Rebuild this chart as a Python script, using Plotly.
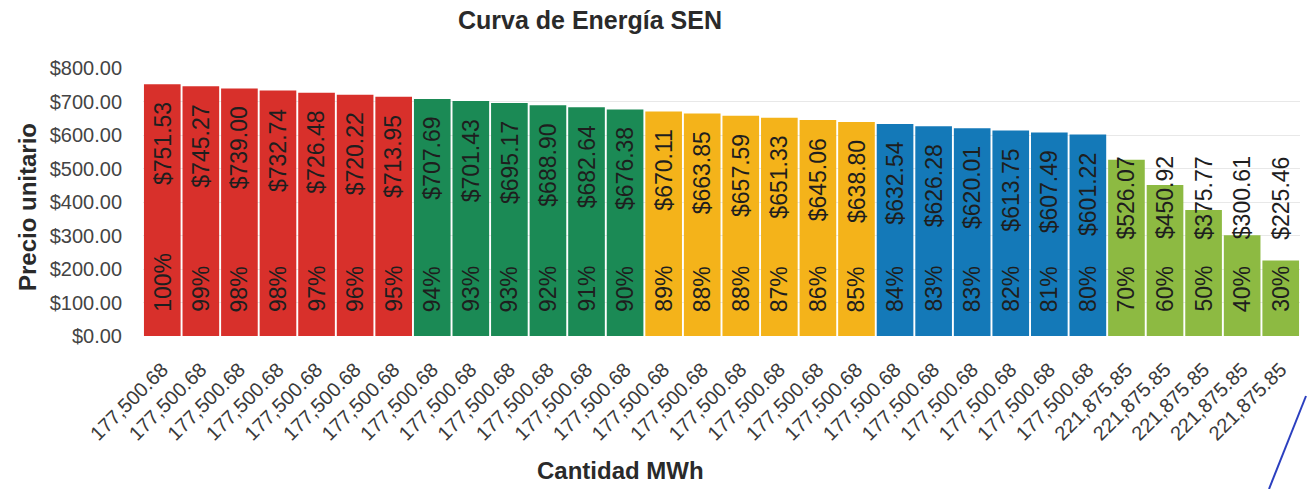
import plotly.graph_objects as go

categories = ["177,500.68"] * 25 + ["221,875.85"] * 5
prices = [751.53, 745.27, 739.00, 732.74, 726.48, 720.22, 713.95,
          707.69, 701.43, 695.17, 688.90, 682.64, 676.38,
          670.11, 663.85, 657.59, 651.33, 645.06, 638.80,
          632.54, 626.28, 620.01, 613.75, 607.49, 601.22,
          526.07, 450.92, 375.77, 300.61, 225.46]
percents = [100, 99, 98, 98, 97, 96, 95,
            94, 93, 93, 92, 91, 90,
            89, 88, 88, 87, 86, 85,
            84, 83, 83, 82, 81, 80,
            70, 60, 50, 40, 30]
group_sizes = [7, 6, 6, 6, 5]
group_colors = ["#d8302b", "#1b8a55", "#f4b31a", "#1479b8", "#8dba42"]

colors = []
for n, c in zip(group_sizes, group_colors):
    colors += [c] * n

xs = list(range(len(prices)))
FONT = "Liberation Sans, Arial, sans-serif"
LOW_LABEL_Y = 270  # label level for bars too short to hold their value label

# pixel geometry of the plot area
W, H = 1307, 489
L, R, T, B = 143, 7, 68, 153
PW, PH = W - L - R, H - T - B


def px_x(px):
    return (px - L) / PW


def px_y(py):
    return (H - B - py) / PH


fig = go.Figure()
fig.add_trace(go.Bar(x=xs, y=prices, marker=dict(color=colors, line=dict(width=0)),
                     hoverinfo="skip", showlegend=False))

label_font = dict(family=FONT, size=23, color="#1e1e1e")
annotations = []
for x, p, pc in zip(xs, prices, percents):
    if p > 560:
        annotations.append(dict(x=x, y=p, xref="x", yref="y", text="$%.2f" % p,
                                textangle=-90, showarrow=False, yanchor="top", yshift=-16,
                                font=label_font))
    else:
        annotations.append(dict(x=x, y=LOW_LABEL_Y, xref="x", yref="y", text="$%.2f" % p,
                                textangle=-90, showarrow=False, yanchor="bottom",
                                yshift=4, font=label_font))
    annotations.append(dict(x=x, y=0, xref="x", yref="y", text="%d%%" % pc,
                            textangle=-90, showarrow=False, yanchor="bottom", yshift=22,
                            font=label_font))

annotations.append(dict(x=px_x(620), y=px_y(470), xref="paper", yref="paper",
                        text="<b>Cantidad MWh</b>", showarrow=False,
                        xanchor="center", yanchor="middle",
                        font=dict(family=FONT, size=24, color="#2a2a2a")))
annotations.append(dict(x=px_x(27), y=px_y(207), xref="paper", yref="paper",
                        text="<b>Precio unitario</b>", showarrow=False, textangle=-90,
                        xanchor="center", yanchor="middle",
                        font=dict(family=FONT, size=24, color="#2a2a2a")))

fig.update_layout(
    width=W, height=H,
    margin=dict(l=L, r=R, t=T, b=B),
    paper_bgcolor="white", plot_bgcolor="white",
    bargap=0.05,
    title=dict(text="<b>Curva de Energía SEN</b>", x=590 / W, xanchor="center",
               y=1 - 20 / H, yanchor="middle",
               font=dict(family=FONT, size=25, color="#2a2a2a")),
    xaxis=dict(range=[-0.5, 29.5], tickvals=xs, ticktext=categories, tickangle=-45,
               tickfont=dict(family=FONT, size=20, color="#3a3a3a"), showgrid=False,
               zeroline=False, showline=False, ticks="", automargin=False,
               ticklabelstandoff=17),
    yaxis=dict(range=[0, 800], dtick=100, tickformat="$,.2f",
               tickfont=dict(family=FONT, size=20, color="#444"),
               showgrid=True, gridcolor="#e8e8e8", gridwidth=1, zeroline=False,
               ticklabelstandoff=20, automargin=False),
    annotations=annotations,
    shapes=[dict(type="line", xref="paper", yref="paper",
                 x0=px_x(1306), y0=px_y(396), x1=px_x(1269), y1=px_y(489),
                 line=dict(color="#2b3fbf", width=2))],
)

fig.write_html("out.html", config={"displayModeBar": False},
               post_script="document.body.style.margin='0';document.body.style.overflow='hidden';")
